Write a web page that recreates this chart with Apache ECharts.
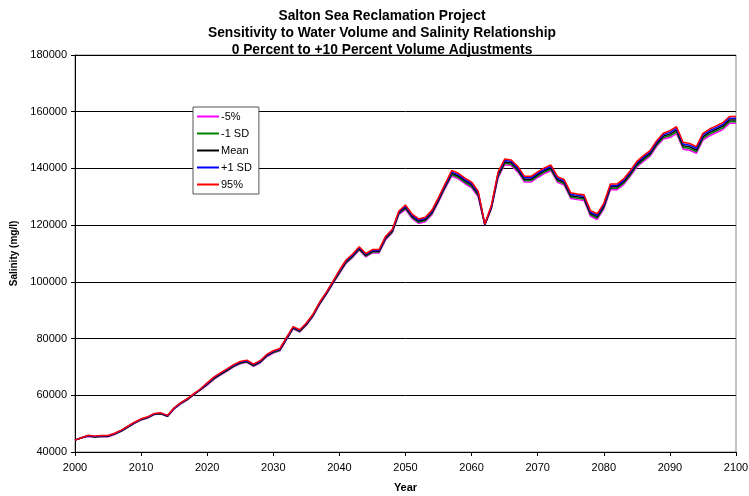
<!DOCTYPE html>
<html>
<head>
<meta charset="utf-8">
<script src="https://cdn.jsdelivr.net/npm/echarts@6/dist/echarts.min.js"></script>
<style>
  html, body { margin: 0; padding: 0; background: #fff; }
  #chart { width: 749px; height: 496px; }
</style>
</head>
<body>
<div id="chart"></div>
<script>
// 年份 2000 - 2100
const years = Array.from({ length: 101 }, (_, i) => 2000 + i)

const seriesNames = ['-5%', '-1 SD', 'Mean', '+1 SD', '95%']

const minus5 = [
  44200, 45000, 45500, 45200, 45400, 45400, 46200, 47300, 48700, 50100,
  51300, 52000, 53200, 53400, 52500, 55200, 57000, 58400, 60200, 61900,
  63600, 65600, 67100, 68500, 70000, 71100, 71600, 70200, 71400, 73600,
  74900, 75700, 79600, 83400, 82300, 84700, 87800, 92000, 95500, 99300,
  102900, 106500, 108600, 111200, 108800, 110200, 110200, 114900, 117300, 123800,
  125500, 122300, 120600, 121200, 123700, 128200, 133000, 137300, 136300, 134600,
  133200, 130000, 120000, 125800, 136700, 141300, 141000, 138700, 135200, 135200,
  136800, 138200, 139200, 135100, 134100, 129400, 129000, 128700, 123100, 122000,
  125700, 132500, 132500, 134300, 137200, 140500, 142500, 144300, 147800, 150400,
  150900, 152300, 146800, 146400, 145300, 150000, 151500, 152600, 153700, 155900,
  155900
]
const minus1sd = [
  44200, 45000, 45600, 45300, 45500, 45500, 46300, 47400, 48800, 50200,
  51400, 52100, 53300, 53500, 52600, 55300, 57100, 58500, 60300, 62000,
  63800, 65800, 67300, 68700, 70200, 71300, 71800, 70400, 71600, 73800,
  75100, 75900, 79800, 83600, 82500, 84900, 88000, 92200, 95700, 99500,
  103200, 106800, 108900, 111500, 109100, 110500, 110500, 115200, 117600, 124100,
  125900, 122700, 121000, 121600, 124100, 128600, 133400, 137800, 136800, 135100,
  133700, 130500, 120100, 126100, 137200, 141800, 141500, 139200, 135700, 135700,
  137300, 138700, 139700, 135600, 134600, 129900, 129500, 129200, 123600, 122500,
  126200, 133000, 133000, 134800, 137700, 141000, 143000, 144800, 148300, 150900,
  151500, 152900, 147400, 147000, 145900, 150600, 152100, 153200, 154300, 156500,
  156500
]
const mean = [
  44200, 45000, 45700, 45400, 45600, 45600, 46400, 47500, 48900, 50300,
  51500, 52200, 53400, 53600, 52700, 55400, 57200, 58600, 60400, 62100,
  64000, 66000, 67500, 68900, 70400, 71500, 72000, 70600, 71800, 74000,
  75300, 76100, 80000, 83800, 82700, 85100, 88200, 92400, 95900, 99700,
  103500, 107100, 109200, 111800, 109400, 110800, 110800, 115500, 117900, 124400,
  126300, 123100, 121400, 122000, 124500, 129000, 133800, 138300, 137300, 135600,
  134200, 131000, 120200, 126400, 137700, 142300, 142000, 139700, 136200, 136200,
  137800, 139200, 140200, 136100, 135100, 130400, 130000, 129700, 124100, 123000,
  126700, 133500, 133500, 135300, 138200, 141500, 143500, 145300, 148800, 151400,
  152100, 153500, 148000, 147600, 146500, 151200, 152700, 153800, 154900, 157100,
  157100
]
const plus1sd = [
  44200, 45000, 45800, 45500, 45700, 45700, 46500, 47600, 49000, 50400,
  51600, 52300, 53500, 53700, 52800, 55500, 57300, 58700, 60500, 62200,
  64200, 66200, 67700, 69100, 70600, 71700, 72200, 70800, 72000, 74200,
  75500, 76300, 80200, 84000, 82900, 85300, 88400, 92600, 96100, 99900,
  103800, 107400, 109500, 112100, 109700, 111100, 111100, 115800, 118200, 124700,
  126700, 123500, 121800, 122400, 124900, 129400, 134200, 138800, 137800, 136100,
  134700, 131500, 120300, 126700, 138200, 142800, 142500, 140200, 136700, 136700,
  138300, 139700, 140700, 136600, 135600, 130900, 130500, 130200, 124600, 123500,
  127200, 134000, 134000, 135800, 138700, 142000, 144000, 145800, 149300, 151900,
  152700, 154100, 148600, 148200, 147100, 151800, 153300, 154400, 155500, 157700,
  157700
]
const pct95 = [
  44200, 45000, 45900, 45600, 45800, 45800, 46600, 47700, 49100, 50500,
  51700, 52400, 53600, 53800, 52900, 55600, 57400, 58800, 60600, 62300,
  64400, 66400, 67900, 69300, 70800, 71900, 72400, 71000, 72200, 74400,
  75700, 76500, 80400, 84200, 83100, 85500, 88600, 92800, 96300, 100100,
  104100, 107700, 109800, 112400, 110000, 111400, 111400, 116100, 118500, 125000,
  127100, 123900, 122200, 122800, 125300, 129800, 134600, 139300, 138300, 136600,
  135200, 132000, 120400, 127000, 138700, 143300, 143000, 140700, 137200, 137200,
  138800, 140200, 141200, 137100, 136100, 131400, 131000, 130700, 125100, 124000,
  127700, 134500, 134500, 136300, 139200, 142500, 144500, 146300, 149800, 152400,
  153300, 154700, 149200, 148800, 147700, 152400, 153900, 155000, 156100, 158300,
  158300
]

const allValues = [minus5, minus1sd, mean, plus1sd, pct95]
const colors = ['#FF00FF', '#008000', '#000000', '#0000FF', '#FF0000']

const font = 'Liberation Sans, Arial, sans-serif'

const option = {
  animation: false,
  backgroundColor: '#fff',
  title: {
    text: 'Salton Sea Reclamation Project\nSensitivity to Water Volume and Salinity Relationship\n0 Percent to +10 Percent Volume Adjustments',
    left: 377,
    top: 3,
    textAlign: 'center',
    textStyle: {
      fontFamily: font,
      fontSize: 13.8,
      fontWeight: 'bold',
      color: '#000',
      lineHeight: 17
    }
  },
  legend: {
    data: seriesNames,
    orient: 'vertical',
    left: 193,
    top: 107,
    icon: 'rect',
    itemWidth: 22,
    itemHeight: 2,
    itemGap: 6,
    padding: [4, 7, 4, 4],
    backgroundColor: '#fff',
    borderColor: '#555',
    borderWidth: 1,
    textStyle: { fontFamily: font, fontSize: 11, color: '#000', padding: [0, 0, 0, -3] }
  },
  grid: {
    left: 75,
    right: 13,
    top: 55,
    bottom: 44,
    outerBoundsMode: 'none',
    show: true,
    borderColor: '#888',
    borderWidth: 1
  },
  xAxis: {
    type: 'value',
    min: 2000,
    max: 2100,
    interval: 10,
    name: 'Year',
    nameLocation: 'middle',
    nameGap: 30,
    nameTextStyle: { fontFamily: font, fontSize: 11, fontWeight: 'bold', color: '#000' },
    axisLine: { lineStyle: { color: '#000', width: 1 } },
    axisTick: { show: true, length: 4, lineStyle: { color: '#000' } },
    axisLabel: { fontFamily: font, fontSize: 11, color: '#000', margin: 10, formatter: v => String(v) },
    splitLine: { show: false }
  },
  yAxis: {
    type: 'value',
    min: 40000,
    max: 180000,
    interval: 20000,
    name: 'Salinity (mg/l)',
    nameLocation: 'middle',
    nameGap: 54,
    nameTextStyle: { fontFamily: font, fontSize: 10, fontWeight: 'bold', color: '#000' },
    axisLine: { show: true, lineStyle: { color: '#000', width: 1 } },
    axisTick: { show: true, length: 4, lineStyle: { color: '#000' } },
    axisLabel: { fontFamily: font, fontSize: 11, color: '#000', margin: 8, formatter: v => String(v) },
    splitLine: { show: true, lineStyle: { color: '#000', width: 1 } }
  },
  series: seriesNames.map((name, k) => ({
    name: name,
    type: 'line',
    showSymbol: false,
    symbol: 'none',
    color: colors[k],
    lineStyle: { width: 1.5, color: colors[k] },
    data: years.map((yr, i) => [yr, allValues[k][i]])
  }))
}

const myChart = echarts.init(document.getElementById('chart'))
myChart.setOption(option, true)
window.addEventListener('resize', () => {
  myChart.resize()
})
</script>
</body>
</html>
